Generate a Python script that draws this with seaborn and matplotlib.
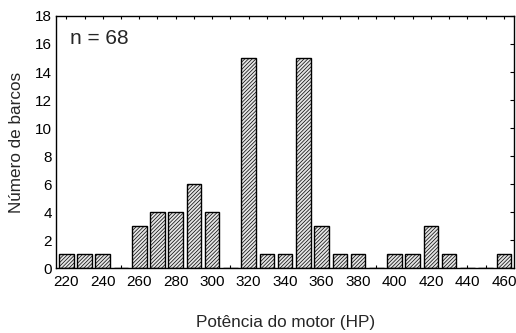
import matplotlib
matplotlib.use("Agg")
import matplotlib.pyplot as plt
import seaborn as sns
import pandas as pd

potencia = [220, 230, 240, 250, 260, 270, 280, 290, 300, 310, 320, 330, 340,
            350, 360, 370, 380, 390, 400, 410, 420, 430, 440, 450, 460]
barcos = [1, 1, 1, 0, 3, 4, 4, 6, 4, 0, 15, 1, 1,
          15, 3, 1, 1, 0, 1, 1, 3, 1, 0, 0, 1]
n_total = 68

sns.set_theme(style="white")
plt.rcParams["font.family"] = ["Liberation Sans", "DejaVu Sans"]
plt.rcParams["hatch.linewidth"] = 0.5
plt.rcParams["hatch.color"] = "#5a5a5a"

df = pd.DataFrame({"potencia": potencia, "barcos": barcos})

fig = plt.figure(figsize=(5.16, 3.33), dpi=100)
ax = fig.add_axes([0.109, 0.195, 0.887, 0.757])

sns.barplot(data=df, x="potencia", y="barcos", order=potencia,
            color="#e4e4e4", edgecolor="black", linewidth=1.0,
            width=0.8, ax=ax, saturation=1)
for p in ax.patches:
    p.set_hatch("/////////")

ax.set_xlim(-0.55, len(potencia) - 0.45)
ax.set_ylim(0, 18)
ax.set_yticks(range(0, 19, 2))
ax.set_xticks(range(len(potencia)))
ax.set_xticklabels([str(v) if i % 2 == 0 else "" for i, v in enumerate(potencia)])

ax.tick_params(axis="both", direction="in", length=3, width=0.8,
               top=True, right=True, labelsize=11, colors="black",
               pad=3)
ax.tick_params(axis="x", bottom=True, length=2, pad=5)
for s in ax.spines.values():
    s.set_color("black")
    s.set_linewidth(1.0)

ax.set_xlabel("Potência do motor (HP)", fontsize=12.3, labelpad=19)
ax.set_ylabel("Número de barcos", fontsize=12.3, labelpad=8)
ax.text(0.03, 0.95, f"n = {n_total}", transform=ax.transAxes,
        fontsize=15, va="top", ha="left")

fig.savefig("out.png", dpi=100)
